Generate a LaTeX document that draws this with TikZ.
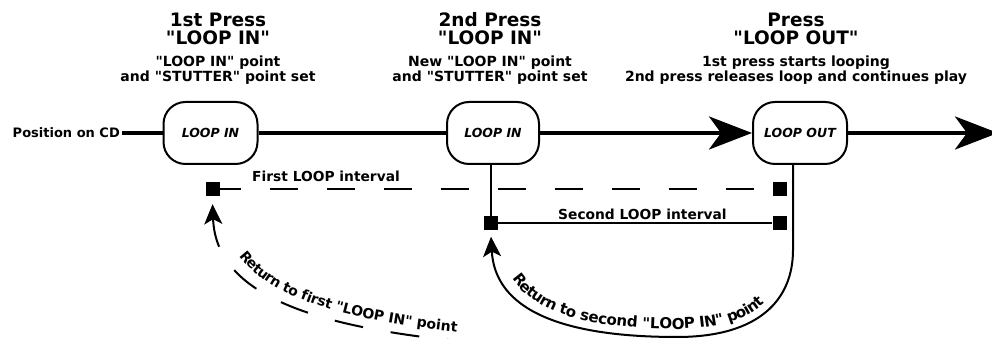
\documentclass[tikz,border=0pt]{standalone}
\usepackage{fontspec}
\setmainfont{DejaVu Sans}[Ligatures=TeXOff]
\usetikzlibrary{arrows.meta,decorations.text}

\begin{document}
\begin{tikzpicture}[
      x=1pt, y=1pt,
      >={Stealth[length=20pt, width=18pt, inset=5pt]},
      loop node/.style={draw, line width=2pt, rounded corners=22pt, minimum width=94pt, minimum height=62pt, inner sep=0pt, font=\fontsize{12.5}{14}\selectfont\bfseries\itshape},
      head text/.style={anchor=base, font=\fontsize{18.5}{20}\selectfont\bfseries},
      sub text/.style={anchor=base, font=\fontsize{14}{16}\selectfont\bfseries},
      label text/.style={anchor=base west, inner sep=0pt, font=\fontsize{13.8}{16}\selectfont\bfseries},
      marker/.style={fill=black, minimum size=14pt, inner sep=0pt},
      cd line/.style={line width=4pt},
      thin line/.style={line width=2pt},
      big arrow/.style={-{Stealth[length=43pt, width=33pt, inset=12pt]}}
    ]
    \useasboundingbox (0,0) rectangle (992,339);

    % Buttons on the CD line
    \node (in1) [loop node] at (210.5,206) {LOOP IN};
    \node (in2) [loop node, minimum width=92pt] at (493,206) {LOOP IN};
    \node (out) [loop node] at (800,206) {LOOP OUT};
    \node (cd) [anchor=east, inner sep=2pt, font=\fontsize{13}{15}\selectfont\bfseries] at (122,206) {Position on CD};
    \coordinate (play) at (998,206);

    \draw[cd line] (cd) -- (in1);
    \draw[cd line] (in1) -- (in2);
    \draw[cd line, big arrow] (in2) -- (out);
    \draw[cd line, big arrow] (out) -- (play);

    % Notes above the buttons
    \node (press1) [head text] at (218,312) {1st Press};
    \node (press1key) [head text] at (218,294) {"LOOP IN"};
    \node (press1note) [sub text] at (218,272) {"LOOP IN" point};
    \node (press1set) [sub text] at (218,257) {and "STUTTER" point set};

    \node (press2) [head text] at (490,312) {2nd Press};
    \node (press2key) [head text] at (490,294) {"LOOP IN"};
    \node (press2note) [sub text] at (490,272) {New "LOOP IN" point};
    \node (press2set) [sub text] at (490,257) {and "STUTTER" point set};

    \node (press3) [head text] at (796,312) {Press};
    \node (press3key) [head text] at (796,294) {"LOOP OUT"};
    \node (press3note) [sub text] at (796,272) {1st press starts looping};
    \node (press3set) [sub text] at (796,257) {2nd press releases loop and continues play};

    % Loop intervals
    \node (m1) [marker] at (212.5,150) {};
    \node (m1e) [marker] at (779.5,150) {};
    \node (m2) [marker] at (491,115.5) {};
    \node (m2e) [marker] at (779.5,115.5) {};

    \draw[thin line, dash pattern=on 28pt off 29pt] (m1.center) -- (m1e.center);
    \draw[thin line] (m2) -- (m2e);
    \draw[thin line] (m2 |- in2.south) -- (m2);
    \node (lab1) [label text] at (252,157) {First LOOP interval};
    \node (lab2) [label text] at (558,119) {Second LOOP interval};

    % Returns
    \coordinate (turn) at (793,89);
    \coordinate (back) at (505,-6);
    \draw[thin line, ->] (turn |- out.south) -- (turn) .. controls (793,40) and (760,2) .. (677,2)
      .. controls (560,2) and (495,30) .. ([yshift=-6pt]m2.south);
    \path[decorate, decoration={text along path, raise=8pt, text align={left indent=50pt},
      text={|\fontsize{15}{17}\selectfont\bfseries|Return to second "LOOP IN" point}}]
      ([yshift=-6pt]m2.south) .. controls (495,30) and (560,2) .. (677,2) .. controls (760,2) and (793,40) .. (turn);

    \draw[thin line, dash pattern=on 29pt off 28pt, <-] ([yshift=-8pt]m1.south) .. controls (216,45) and (310,8) .. (back);
    \path[decorate, decoration={text along path, raise=9pt, text align={left indent=62pt},
      text={|\fontsize{14}{16}\selectfont\bfseries|Return to first "LOOP IN" point}}]
      ([yshift=-8pt]m1.south) .. controls (216,45) and (310,8) .. (back);
  \end{tikzpicture}
\end{document}
